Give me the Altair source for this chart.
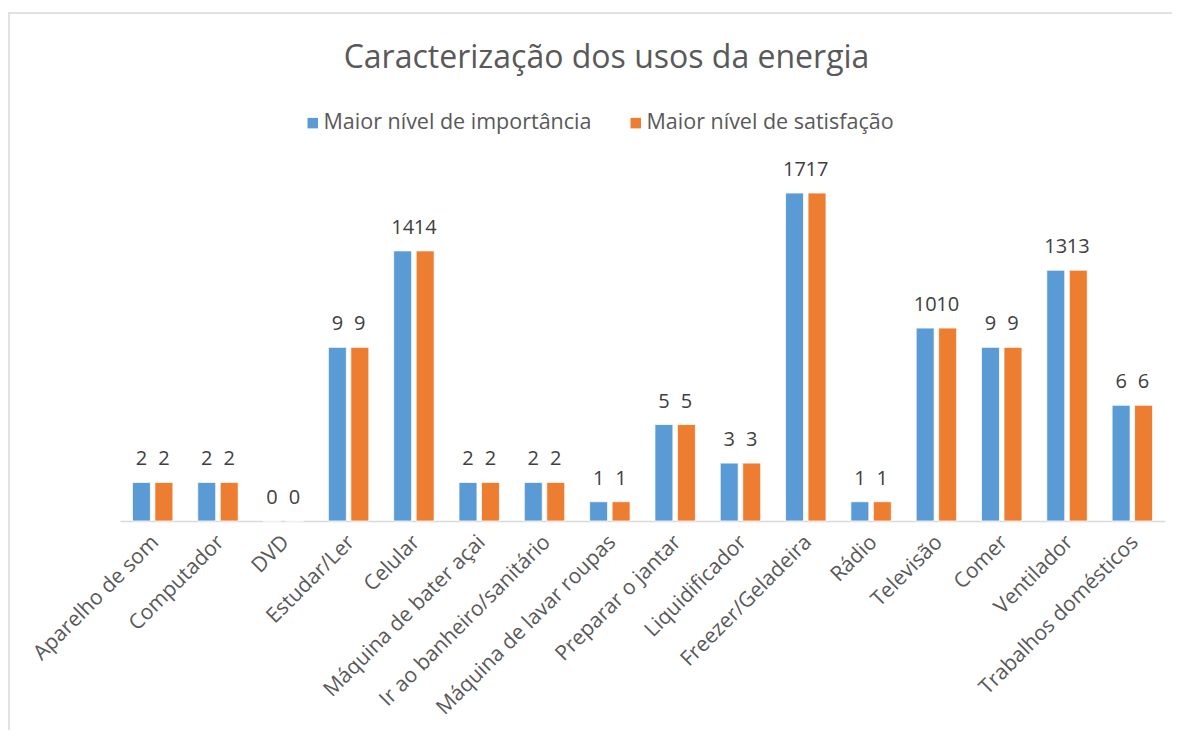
import altair as alt
import pandas as pd

categories = ["Aparelho de som", "Computador", "DVD", "Estudar/Ler", "Celular",
              "Máquina de bater açai", "Ir ao banheiro/sanitário", "Máquina de lavar roupas",
              "Preparar o jantar", "Liquidificador", "Freezer/Geladeira", "Rádio",
              "Televisão", "Comer", "Ventilador", "Trabalhos domésticos"]
importancia = [2, 2, 0, 9, 14, 2, 2, 1, 5, 3, 17, 1, 10, 9, 13, 6]
satisfacao = [2, 2, 0, 9, 14, 2, 2, 1, 5, 3, 17, 1, 10, 9, 13, 6]
series = ["Maior nível de importância", "Maior nível de satisfação"]
colors = ["#5B9BD5", "#ED7D31"]

rows = []
for c, a, b in zip(categories, importancia, satisfacao):
    rows.append({"cat": c, "serie": series[0], "v": a})
    rows.append({"cat": c, "serie": series[1], "v": b})
df = pd.DataFrame(rows)

FONT = "Open Sans"
W, H = 1045, 328

x = alt.X("cat:N", sort=categories, title=None,
          scale=alt.Scale(paddingInner=0.38, paddingOuter=0.19),
          axis=alt.Axis(labelAngle=-45, labelFontSize=21, labelColor="#595959",
                        labelFont=FONT, domainColor="#D9D9D9", domainWidth=1.5,
                        ticks=False, labelPadding=10, labelOffset=-5, labelLimit=400))
y = alt.Y("v:Q", scale=alt.Scale(domain=[0, 17], nice=False), axis=None)
color = alt.Color("serie:N", sort=series,
                  scale=alt.Scale(domain=series, range=colors),
                  legend=alt.Legend(title=None, orient="none", direction="horizontal",
                                    legendX=182, legendY=-81, symbolType="square",
                                    symbolSize=110, symbolStrokeWidth=0,
                                    labelFontSize=21.5, labelFont=FONT, labelColor="#595959",
                                    labelLimit=400, columnPadding=33, labelOffset=0))
xo = alt.XOffset("serie:N", sort=series, scale=alt.Scale(paddingInner=0.2))

base = alt.Chart(df)
bars = base.mark_bar(stroke="white", strokeWidth=0.8).encode(x=x, y=y, color=color, xOffset=xo)
labels = base.mark_text(dy=-17, baseline="alphabetic", fontSize=20, font=FONT,
                        color="#404040").encode(x=x, y=y, xOffset=xo, text="v:Q")

frame = alt.Chart(pd.DataFrame({"a": [0]})).mark_rect(
    fill=None, stroke="#D9D9D9", strokeWidth=1.5).encode(
    x=alt.value(-111), x2=alt.value(W + 60), y=alt.value(-180), y2=alt.value(H + 250))

chart = alt.layer(frame, bars, labels).properties(
    width=W, height=H, background="white",
    title=alt.TitleParams("Caracterização dos usos da energia", fontSize=32, font=FONT,
                          fontWeight="normal", color="#595959", anchor="middle",
                          dx=-36, offset=-63),
    autosize=alt.AutoSizeParams(type="none"),
    padding={"left": 112, "top": 185, "right": 7, "bottom": 209},
).configure_view(strokeWidth=0, stroke="transparent")

chart.save("out.html", embed_options={"renderer": "svg", "actions": False})
